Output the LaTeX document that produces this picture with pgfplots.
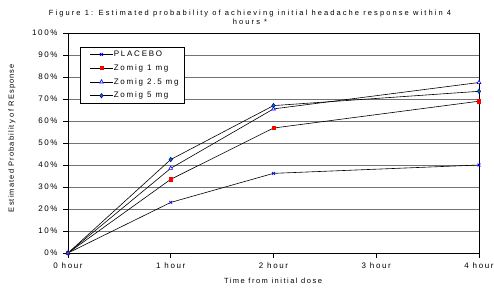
\documentclass[border=0pt]{standalone}
\usepackage{fontspec}
\setmainfont{Liberation Sans}[LetterSpace=20]
\newfontfamily\legfont{Liberation Sans}[LetterSpace=22]
\newfontfamily\titlefont{Liberation Sans}[LetterSpace=28]
\newfontfamily\ylabfont{Liberation Sans}[LetterSpace=15]
\usepackage{pgfplots}
\pgfplotsset{compat=1.18}
\pgfplotstableread{
x placebo z1 z25 z5
0 0 0 0 0
1 23 33.5 38.5 42.5
2 36.2 56.8 65.5 67
4 40 69 77.5 73.5
}\datatable
\begin{document}
\begin{tikzpicture}
\begin{axis}[
  scale only axis, width=411pt, height=220pt,
  at={(0,0)}, anchor=origin,
  xmin=0, xmax=4, ymin=0, ymax=100,
  xtick={0,1,2,3,4},
  xticklabels={0 hour,1 hour,2 hour,3 hour,4 hour},
  ytick={0,10,...,100},
  yticklabel={\pgfmathprintnumber{\tick}\%},
  /pgf/number format/assume math mode=true,
  ymajorgrids,
  major grid style={black!55, line width=0.7pt},
  tick align=outside, tick pos=left,
  major tick length=5pt,
  tick style={black, line width=0.6pt},
  axis line style={black, line width=0.8pt},
  ticklabel style={font=\fontsize{8}{9}\selectfont},
  xticklabel style={yshift=-1pt},
  yticklabel style={xshift=-2pt},
  legend style={at={(0.029,0.936)}, anchor=north west, draw=black, line width=0.6pt,
    font=\legfont\fontsize{8}{9}\selectfont, row sep=4.5pt, inner xsep=5pt, inner ysep=2.5pt,
    nodes={inner sep=1pt, text depth=0.15em}},
  legend cell align=left,
  legend image code/.code={\path (0cm,0cm); \draw[mark repeat=2,mark phase=2] plot coordinates {(0.17cm,0cm) (0.56cm,0cm) (0.95cm,0cm)};},
  every axis plot/.append style={black, line width=0.6pt},
]
\addplot[mark=x, mark size=2pt, mark options={blue, line width=0.8pt}] table[x=x,y=placebo]{\datatable};
\addlegendentry{PLACEBO}
\addplot[mark=square*, mark size=1.6pt, mark options={draw=red, fill=red}] table[x=x,y=z1]{\datatable};
\addlegendentry{Zomig 1 mg}
\addplot[mark=triangle*, mark size=2.2pt, mark options={draw=blue, fill=white}] table[x=x,y=z25]{\datatable};
\addlegendentry{Zomig 2.5 mg}
\addplot[mark=diamond*, mark size=2.2pt, mark options={draw=blue, fill=green!60!black}] table[x=x,y=z5]{\datatable};
\addlegendentry{Zomig 5 mg}
\end{axis}
\node[font=\titlefont\fontsize{7.5}{9}\selectfont, align=center] at (182pt,236pt) {Figure 1: Estimated probability of achieving initial headache response within 4\\hours *};
\node[font=\fontsize{7.5}{8}\selectfont] at (205pt,-28pt) {Time from initial dose};
\node[font=\ylabfont\fontsize{7.5}{8}\selectfont, rotate=90] at (-56pt,115pt) {Estimated Probability of REsponse};
\pgfresetboundingbox
\path[use as bounding box] (-68pt,-37pt) rectangle (426pt,253pt);
\end{tikzpicture}
\end{document}
